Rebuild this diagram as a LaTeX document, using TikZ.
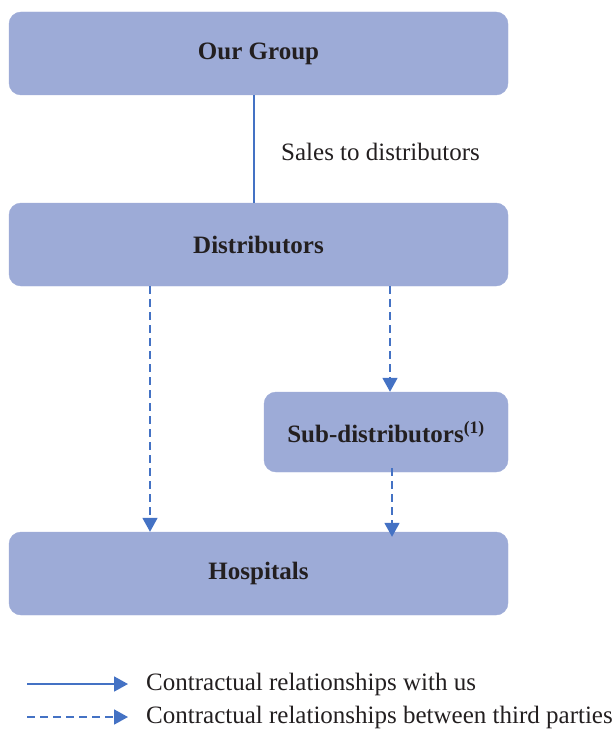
\documentclass[tikz,border=0pt]{standalone}
\usepackage{fontspec}
\setmainfont{Liberation Serif}
\usetikzlibrary{arrows.meta}
\definecolor{boxfill}{HTML}{9DABD7}
\definecolor{linecol}{HTML}{4472C4}
\definecolor{txt}{HTML}{231F20}
\begin{document}
\begin{tikzpicture}[x=1pt,y=-1pt,
  box/.style={fill=boxfill, draw=boxfill, rounded corners=12pt, inner sep=0pt,
    font=\fontsize{25}{28}\selectfont\bfseries, text=txt},
  plain/.style={font=\fontsize{25}{28}\selectfont, text=txt, inner sep=0pt},
  tip/.style={-{Triangle[width=15pt,length=14pt]}},
  solidline/.style={draw=linecol, line width=1.8pt},
  dashline/.style={draw=linecol, line width=1.8pt, dash pattern=on 8pt off 5pt}]
\useasboundingbox (0,0) rectangle (614,730);
\node[box, minimum width=499pt, minimum height=83pt] (og) at (258.5,53.5) {Our Group};
\node[box, minimum width=499pt, minimum height=83pt] (dist) at (258.5,244.5) {Distributors};
\node[box, minimum width=244pt, minimum height=80pt] (sub) at (386,432) {Sub-distributors\textsuperscript{(1)}};
\node[box, minimum width=499pt, minimum height=83pt] (hosp) at (258.5,573.5) {Hospitals};
\node[plain, anchor=west] (sales) at (281,152) {Sales to distributors};

\draw[solidline] ([xshift=-4.5pt]og.south) -- ([xshift=-4.5pt]dist.north);
\draw[dashline, tip] ([xshift=-108.5pt]dist.south) -- ([xshift=-108.5pt]hosp.north);
\draw[dashline, tip] ([xshift=131.5pt]dist.south) -- ([xshift=4pt]sub.north);
\draw[dashline, tip] ([xshift=6pt,yshift=4pt]sub.south) -- ([xshift=133.5pt,yshift=-5pt]hosp.north);

\coordinate (l1a) at (27,684);
\coordinate (l1b) at (128,684);
\coordinate (l2a) at (27,717);
\coordinate (l2b) at (128,717);
\draw[solidline, tip] (l1a) -- (l1b);
\draw[dashline, tip] (l2a) -- (l2b);
\node[plain, anchor=west] (leg1) at (146,684) {Contractual relationships with us};
\node[plain, anchor=west] (leg2) at (146,717) {Contractual relationships between third parties};
\end{tikzpicture}
\end{document}
